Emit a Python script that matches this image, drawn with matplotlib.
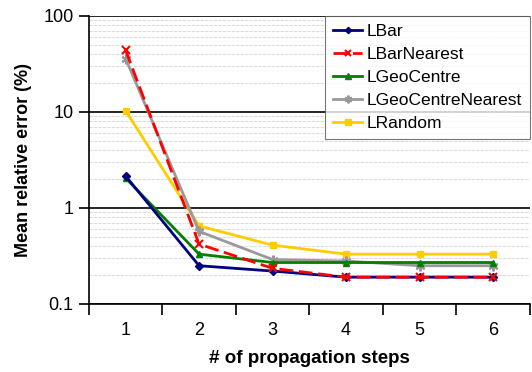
import matplotlib
matplotlib.use("Agg")
import matplotlib.pyplot as plt
import numpy as np

plt.rcParams['font.family'] = ['Liberation Sans', 'DejaVu Sans']

steps = [1, 2, 3, 4, 5, 6]
lbar = [2.15, 0.25, 0.22, 0.19, 0.19, 0.19]
lbar_nearest = [44, 0.42, 0.235, 0.19, 0.19, 0.19]
lgeo = [2.05, 0.33, 0.27, 0.27, 0.27, 0.27]
lgeo_nearest = [36, 0.57, 0.29, 0.28, 0.25, 0.25]
lrandom = [10.3, 0.65, 0.41, 0.33, 0.33, 0.33]

fig = plt.figure(figsize=(5.32, 3.72), dpi=100)
ax = fig.add_axes([0.167, 0.183, 0.829, 0.774])

x = np.arange(len(steps))
ax.plot(x, lbar, color='#000080', marker='D', ms=4, lw=2, label='LBar', zorder=5)
ax.plot(x, lbar_nearest, color='#FF0000', marker='x', ms=6, mew=1.5, lw=2,
        ls=(0, (5, 2)), label='LBarNearest', zorder=6)
ax.plot(x, lgeo, color='#008000', marker='^', ms=5, lw=2, label='LGeoCentre', zorder=4)
ax.plot(x, lgeo_nearest, color='#999999', marker=(6, 2, 0), ms=7, mew=1.5, lw=2,
        label='LGeoCentreNearest', zorder=3)
ax.plot(x, lrandom, color='#FFCC00', marker='s', ms=5, lw=2, label='LRandom', zorder=2)

ax.set_yscale('log')
ax.set_ylim(0.1, 100)
ax.set_xlim(-0.5, len(steps) - 0.5)
ax.set_yticks([0.1, 1, 10, 100])
ax.set_yticklabels(['0.1', '1', '10', '100'])
ax.yaxis.set_minor_locator(matplotlib.ticker.LogLocator(base=10, subs=np.arange(2, 10)))
ax.yaxis.set_minor_formatter(matplotlib.ticker.NullFormatter())
ax.tick_params(axis='y', which='minor', length=0)
ax.tick_params(axis='y', which='major', length=7, width=1.2, labelsize=13,
               direction='out', pad=4)
ax.grid(True, which='major', axis='y', color='black', lw=1.2)
ax.grid(True, which='minor', axis='y', color='#dddddd', lw=0.8, ls=(0, (3, 1)))

ax.set_xticks(x)
ax.set_xticklabels([str(s) for s in steps])
ax.tick_params(axis='x', which='major', length=0, labelsize=13, pad=13)
ax.set_xticks(np.arange(len(steps) + 1) - 0.5, minor=True)
ax.tick_params(axis='x', which='minor', length=8, width=1.2, direction='out')

for side in ['top', 'right']:
    ax.spines[side].set_visible(False)
ax.spines['left'].set_linewidth(1.2)
ax.spines['bottom'].set_linewidth(1.2)

ax.set_xlabel('# of propagation steps', fontsize=13.5, fontweight='bold', labelpad=8)
ax.set_ylabel('Mean relative error (%)', fontsize=13, fontweight='bold', labelpad=8)

leg = ax.legend(loc='upper right', fontsize=12.5, frameon=True, fancybox=False,
                edgecolor='#555555', borderaxespad=0, handlelength=1.7,
                labelspacing=0.45, borderpad=0.45, handletextpad=0.25,
                markerscale=0.8)
leg.get_frame().set_linewidth(0.8)

fig.savefig('out.png', dpi=100)
